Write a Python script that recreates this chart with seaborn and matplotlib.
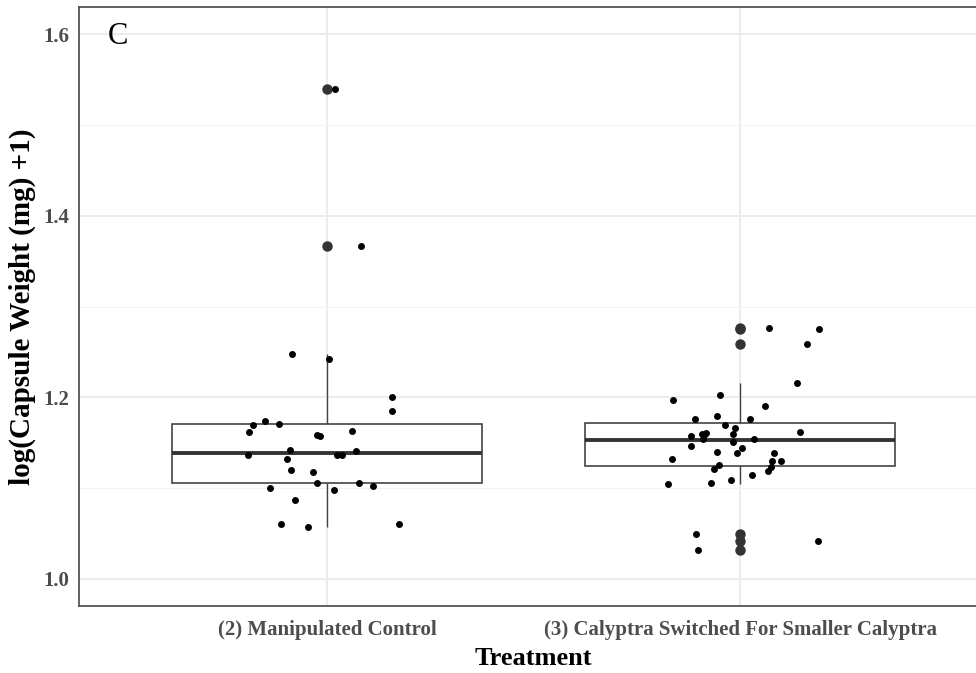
import seaborn as sns
import matplotlib.pyplot as plt
import pandas as pd
import numpy as np
from matplotlib.ticker import MultipleLocator

# values, log(capsule weight (mg) + 1)
groups = ["(2) Manipulated Control", "(3) Calyptra Switched For Smaller Calyptra"]

manipulated_control = [
    1.540, 1.367, 1.248, 1.242, 1.200, 1.185, 1.174, 1.171, 1.170, 1.158,
    1.162, 1.157, 1.163, 1.142, 1.141, 1.137, 1.136, 1.136, 1.132, 1.118,
    1.120, 1.106, 1.106, 1.100, 1.098, 1.102, 1.087, 1.060, 1.057, 1.060,
]
smaller_calyptra = [
    1.275, 1.276, 1.259, 1.216, 1.203, 1.197, 1.190, 1.176, 1.179, 1.176,
    1.170, 1.166, 1.160, 1.161, 1.160, 1.162, 1.154, 1.159, 1.154, 1.151,
    1.157, 1.146, 1.144, 1.132, 1.139, 1.140, 1.139, 1.130, 1.130, 1.123,
    1.125, 1.119, 1.121, 1.115, 1.106, 1.109, 1.104, 1.032, 1.042, 1.049,
]

df = pd.DataFrame({
    "Treatment": [groups[0]] * len(manipulated_control) + [groups[1]] * len(smaller_calyptra),
    "weight": manipulated_control + smaller_calyptra,
})

sns.set_theme(style="whitegrid")
plt.rcParams["font.family"] = ["Liberation Serif", "DejaVu Serif"]

fig = plt.figure(figsize=(9.76, 6.73), dpi=100)
ax = fig.add_axes([79 / 976, 67 / 673, 909 / 976, 599 / 673])

sns.boxplot(data=df, x="Treatment", y="weight", order=groups, width=0.75,
            color="white", linecolor="#333333", linewidth=1.1, showcaps=False,
            fliersize=6.5,
            flierprops=dict(marker="o", markerfacecolor="#333333", markeredgecolor="#333333"),
            medianprops=dict(linewidth=2.8, color="#333333"),
            whiskerprops=dict(color="#444444", linewidth=1.0),
            ax=ax, zorder=2)

# jitter only spreads the points sideways, values stay as read
np.random.seed(3)
sns.stripplot(data=df, x="Treatment", y="weight", order=groups, jitter=0.2,
              color="black", size=5, linewidth=0, ax=ax, zorder=3)

ax.set_xlim(-0.6, 1.6)
ax.set_ylim(0.9702, 1.6298)
ax.yaxis.set_major_locator(MultipleLocator(0.2))
ax.yaxis.set_minor_locator(MultipleLocator(0.1))
ax.yaxis.set_major_formatter(lambda v, p: f"{v:.1f}")

ax.grid(which="major", color="#EBEBEB", linewidth=1.3, zorder=0)
ax.grid(which="minor", axis="y", color="#F2F2F2", linewidth=0.8, zorder=0)
ax.set_axisbelow(True)

for s in ax.spines.values():
    s.set_color("#555555")
    s.set_linewidth(1.3)

ax.tick_params(axis="both", which="major", length=4, width=1.2, color="#444444",
               labelsize=15, labelcolor="#4D4D4D")
ax.tick_params(axis="x", pad=6)
ax.tick_params(axis="y", pad=3)
ax.tick_params(axis="y", which="minor", length=0)
for lab in ax.get_xticklabels() + ax.get_yticklabels():
    lab.set_fontweight("bold")

ax.set_xlabel("Treatment", fontsize=19, fontweight="bold", color="black", labelpad=5)
ax.set_ylabel("log(Capsule Weight (mg) +1)", fontsize=21, fontweight="bold",
              color="black", labelpad=5)

ax.text(0.032, 0.975, "C", transform=ax.transAxes, fontsize=22,
        va="top", ha="left", color="black")

fig.savefig("out.png", dpi=100)
